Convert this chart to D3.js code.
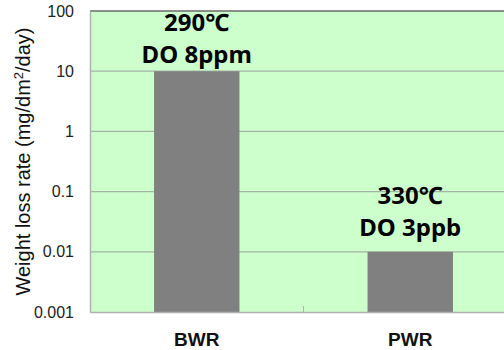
<!DOCTYPE html>
<html>
<head>
<meta charset="utf-8">
<script src="https://cdn.jsdelivr.net/npm/d3@7"></script>
<style>
  html, body { margin: 0; padding: 0; background: #fff; }
  svg { display: block; }
</style>
</head>
<body>
<svg id="chart" width="504" height="350"></svg>
<script>
// Weight loss rate by reactor type (log scale)
const categories = ["BWR", "PWR"];
const rates = [10, 0.01];
const conditionTemp = ["290℃", "330℃"];
const conditionDO = ["DO 8ppm", "DO 3ppb"];
const tickValues = [0.001, 0.01, 0.1, 1, 10, 100];
const tickLabels = ["0.001", "0.01", "0.1", "1", "10", "100"];

const svg = d3.select("#chart");
const x0 = 90, x1 = 517;   // plot runs past the right edge
const y0 = 11, y1 = 312;

const x = d3.scaleBand().domain(categories).range([x0, x1]).padding(0);
const barW = x.bandwidth() * 0.4;
const y = d3.scaleLog().domain([0.001, 100]).range([y1, y0]);

// plot background
svg.append("rect").attr("x", x0).attr("y", y0).attr("width", x1 - x0).attr("height", y1 - y0)
  .attr("fill", "#ccffcc");

// gridlines
svg.append("g").selectAll("line").data(tickValues.slice(1, -1)).join("line")
  .attr("x1", x0).attr("x2", x1)
  .attr("y1", d => y(d)).attr("y2", d => y(d))
  .attr("stroke", "#a4b4a4").attr("stroke-width", 1.2);

// top border
svg.append("line").attr("x1", x0).attr("x2", x1).attr("y1", y0).attr("y2", y0)
  .attr("stroke", "#6a6a6a").attr("stroke-width", 1.5);

// bars
svg.append("g").selectAll("rect").data(categories).join("rect")
  .attr("x", d => x(d) + (x.bandwidth() - barW) / 2).attr("width", barW)
  .attr("y", (d, i) => y(rates[i]))
  .attr("height", (d, i) => y1 - y(rates[i]))
  .attr("fill", "#808080");

// y axis
const yAxis = d3.axisLeft(y).tickValues(tickValues)
  .tickFormat((d, i) => tickLabels[i]).tickSize(0).tickPadding(16);
const gy = svg.append("g").attr("transform", `translate(${x0},0)`).call(yAxis);
gy.select(".domain").attr("stroke", "#b0b0b0").attr("stroke-width", 1.5);
gy.selectAll("text").attr("font-family", "'Liberation Sans', Arial, sans-serif")
  .attr("font-size", 16).attr("fill", "#222");

// x axis
const xAxis = d3.axisBottom(x).tickSize(0).tickPadding(21);
const gx = svg.append("g").attr("transform", `translate(0,${y1})`).call(xAxis);
gx.select(".domain").attr("stroke", "#b0b0b0").attr("stroke-width", 1.5);
gx.selectAll("text").attr("font-family", "'Liberation Sans', Arial, sans-serif")
  .attr("font-size", 19).attr("font-weight", "bold").attr("fill", "#111");
// category separator tick
const sep = x(categories[1]);
svg.append("line").attr("x1", sep).attr("x2", sep).attr("y1", y1 - 6).attr("y2", y1)
  .attr("stroke", "#b0b0b0").attr("stroke-width", 1);

// condition labels above bars
const lab = svg.append("g").attr("font-family", "'Noto Sans', sans-serif")
  .attr("font-weight", "bold").attr("font-size", 24).attr("fill", "#000").attr("text-anchor", "middle");
const labelGap = [[40, 8], [48, 16]];
categories.forEach((c, i) => {
  const cx = x(c) + x.bandwidth() / 2;
  const top = y(rates[i]);
  lab.append("text").attr("x", cx).attr("y", top - labelGap[i][0]).text(conditionTemp[i]);
  lab.append("text").attr("x", cx).attr("y", top - labelGap[i][1]).text(conditionDO[i]);
});

// y axis title
svg.append("text")
  .attr("transform", `translate(30,${(y0 + y1) / 2}) rotate(-90)`)
  .attr("text-anchor", "middle")
  .attr("font-family", "'Liberation Sans', Arial, sans-serif")
  .attr("font-size", 20).attr("fill", "#111")
  .html('Weight loss rate (mg/dm<tspan baseline-shift="super" font-size="13">2</tspan>/day)');
</script>
</body>
</html>
